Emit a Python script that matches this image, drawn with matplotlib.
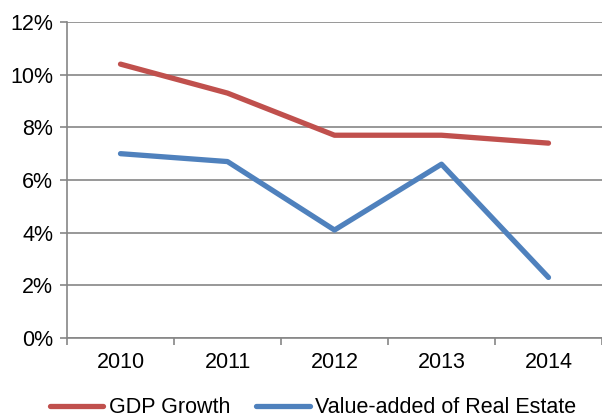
import matplotlib
matplotlib.use("Agg")
import matplotlib.pyplot as plt
from matplotlib.ticker import FuncFormatter

years = ["2010", "2011", "2012", "2013", "2014"]
gdp_growth = [10.4, 9.3, 7.7, 7.7, 7.4]
real_estate = [7.0, 6.7, 4.1, 6.6, 2.3]

plt.rcParams['font.family'] = ['Liberation Sans', 'DejaVu Sans']
fs = 15.5

fig = plt.figure(figsize=(6.02, 4.19), dpi=100)
ax = fig.add_axes([67/602, 1 - 338/419, 535/602, 316/419])

x = range(len(years))
ax.plot(x, gdp_growth, color="#C0504D", lw=3.8, solid_capstyle="round", label="GDP Growth")
ax.plot(x, real_estate, color="#4F81BD", lw=3.8, solid_capstyle="round", label="Value-added of Real Estate")

ax.set_xlim(-0.5, len(years) - 0.5)
ax.set_ylim(0, 12)
ax.set_yticks(range(0, 13, 2))
ax.yaxis.set_major_formatter(FuncFormatter(lambda v, p: f"{v:.0f}%"))
ax.set_xticks(list(x))
ax.set_xticklabels(years)
ax.set_xticks([i - 0.5 for i in range(len(years) + 1)], minor=True)
ax.tick_params(axis="x", which="major", length=0, pad=10, labelsize=fs)
ax.tick_params(axis="x", which="minor", length=5, color="#868686", width=1.2)
ax.tick_params(axis="y", length=5, color="#868686", width=1.2, labelsize=fs, pad=5)

ax.grid(axis="y", color="#868686", lw=1.2)
ax.set_axisbelow(True)
for s in ["top", "right"]:
    ax.spines[s].set_visible(False)
ax.spines["left"].set_color("#868686")
ax.spines["bottom"].set_color("#868686")
ax.spines["left"].set_linewidth(1.2)
ax.spines["bottom"].set_linewidth(1.2)

fig.legend(loc="lower center", bbox_to_anchor=(0.52, -0.045), ncol=2, frameon=False,
           fontsize=fs, handlelength=2.5, handletextpad=0.25, columnspacing=1.2)

fig.savefig("out.png", dpi=100)
